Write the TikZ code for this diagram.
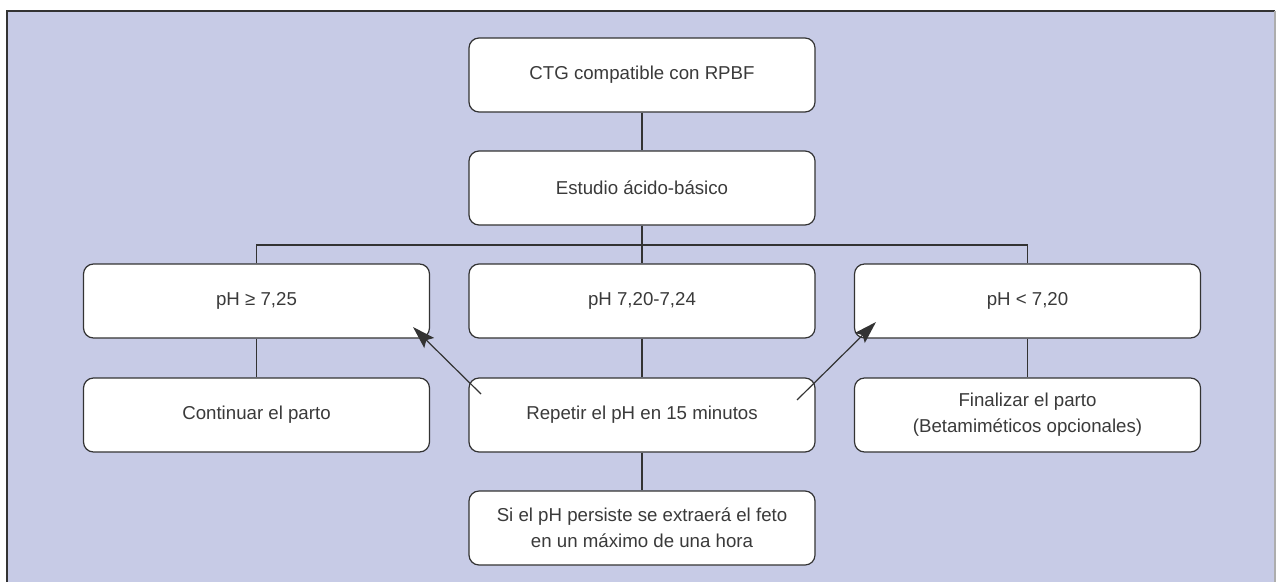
\documentclass[tikz,border=0pt]{standalone}
\usepackage{fontspec}
\setmainfont{Liberation Sans}
\usetikzlibrary{arrows.meta}
\definecolor{bg}{HTML}{C7CBE6}
\definecolor{ink}{HTML}{333333}
\definecolor{txt}{HTML}{3A3A3A}
\tikzset{
  box/.style={draw=ink, line width=0.9pt, fill=white, rounded corners=7.5pt,
    minimum width=259.5pt, minimum height=55.5pt, inner sep=2pt,
    align=center, font=\fontsize{14pt}{19.5pt}\selectfont, text=txt},
  conn/.style={draw=ink, line width=0.9pt},
  arr/.style={draw=ink, line width=0.9pt, -{Stealth[length=17pt, width=10.5pt, inset=3pt]}}
}
\begin{document}
\begin{tikzpicture}[x=0.75pt, y=-0.75pt]
\useasboundingbox (0,0) rectangle (1276,582);
\fill[white] (0,0) rectangle (1276,582);
\fill[bg] (7,11) rectangle (1276,582);
\draw[ink, line width=1pt] (7,582) -- (7,11) -- (1275,11);
\draw[ink!40, line width=0.8pt] (1275,11) -- (1275,582);

\node[box] (top) at (642,75) {CTG compatible con RPBF};
\node[box] (est) at (642,188) {Estudio ácido-básico};
\node[box] (a1) at (256.5,301) {pH ≥ 7,25};
\node[box] (b1) at (642,301) {pH 7,20-7,24};
\node[box] (c1) at (1027.5,301) {pH < 7,20};
\node[box] (a2) at (256.5,415) {Continuar el parto};
\node[box] (b2) at (642,415) {Repetir el pH en 15 minutos};
\node[box] (c2) at (1027.5,415) {Finalizar el parto\\(Betamiméticos opcionales)};
\node[box] (b3) at (642,528) {Si el pH persiste se extraerá el feto\\en un máximo de una hora};

\coordinate (bus) at (642,245);
\coordinate (l0) at (481,394);
\coordinate (l1) at (413,327);
\coordinate (r0) at (797,400);
\coordinate (r1) at (876,322);

\draw[conn] (top.south) -- (est.north);
\draw[conn] (est.south) -- (bus);
\draw[conn] (a1.north) |- (bus) -| (c1.north);
\draw[conn] (bus) -- (b1.north);
\draw[conn] (a1.south) -- (a2.north);
\draw[conn] (b1.south) -- (b2.north);
\draw[conn] (c1.south) -- (c2.north);
\draw[conn] (b2.south) -- (b3.north);

\draw[arr] (l0) -- (l1);
\draw[arr] (r0) -- (r1);
\end{tikzpicture}
\end{document}
